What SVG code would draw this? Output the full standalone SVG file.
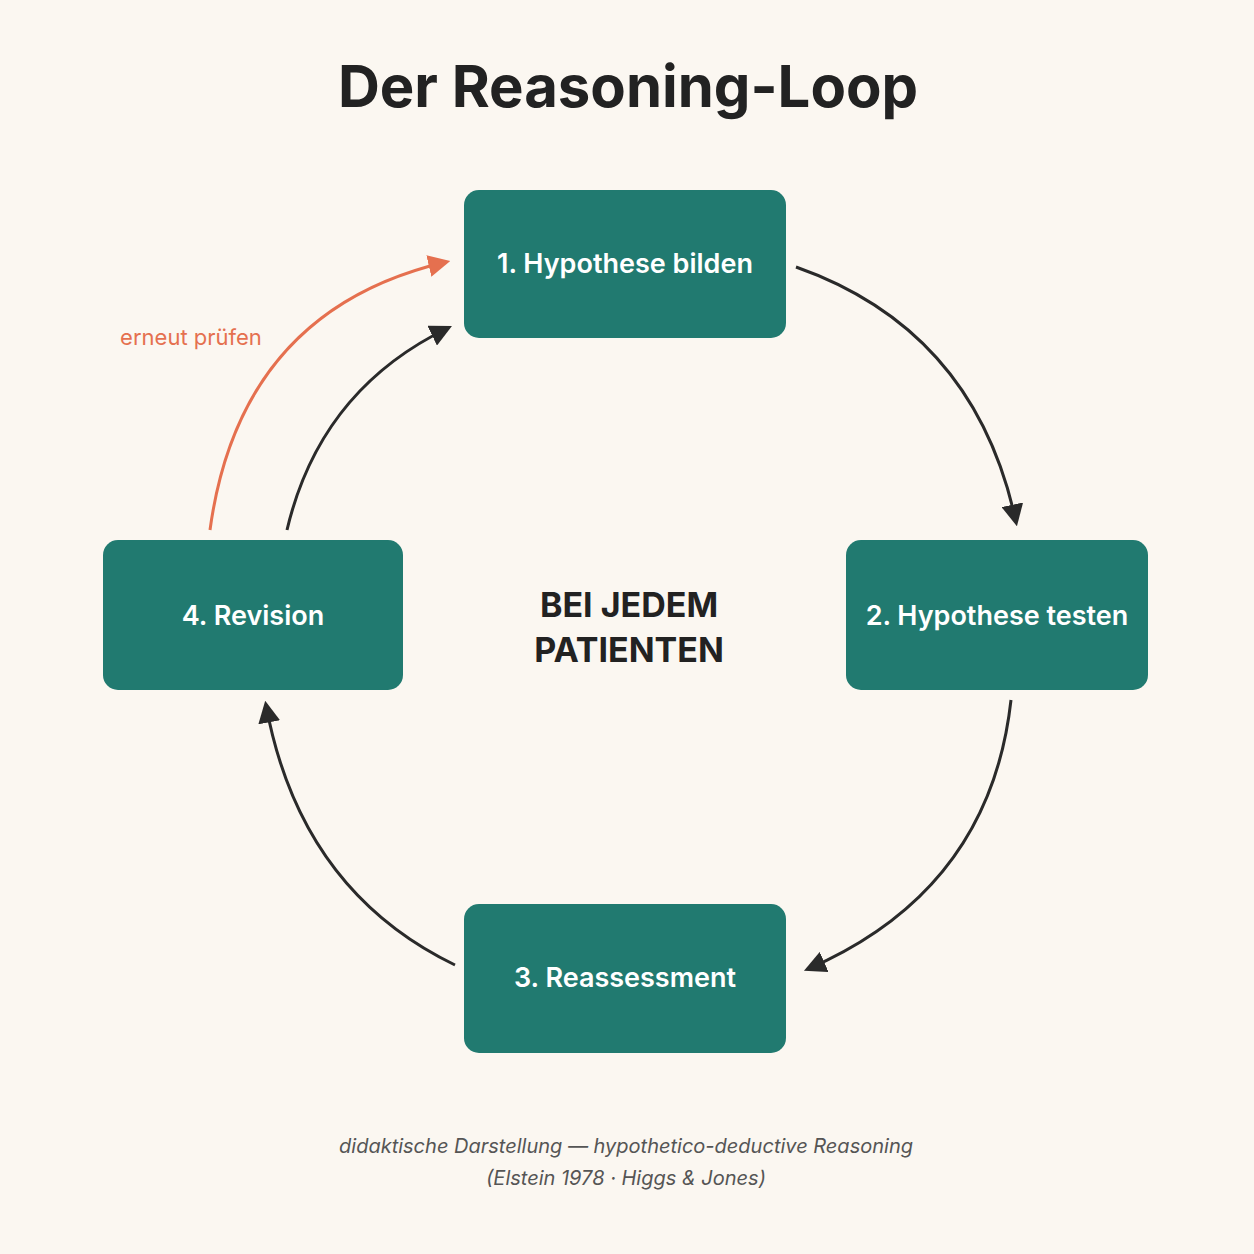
<svg xmlns="http://www.w3.org/2000/svg" width="1254" height="1254" viewBox="0 0 1254 1254">
<defs>
<style>
.box{fill:#217A70}
.lbl{font-family:"Inter","Liberation Sans",sans-serif;font-weight:600;font-size:27px;fill:#fff;text-anchor:middle}
.con{fill:none;stroke:#2a2a2a;stroke-width:3}
.foot{font-family:"Inter","Liberation Sans",sans-serif;font-style:italic;font-size:20px;fill:#555;text-anchor:middle}
</style>
<marker id="ah" viewBox="0 0 10 10" refX="8" refY="5" markerWidth="7" markerHeight="7" orient="auto" markerUnits="userSpaceOnUse" style="overflow:visible"><path d="M0,0 L10,5 L0,10 z" fill="#2a2a2a" transform="scale(2.2) translate(-4,-5) translate(4,5)"/></marker>
<marker id="ah2" viewBox="0 0 10 10" refX="8" refY="5" markerWidth="22" markerHeight="22" orient="auto" markerUnits="userSpaceOnUse"><path d="M0,0 L10,5 L0,10 z" fill="#E5704F"/></marker>
<marker id="ah1" viewBox="0 0 10 10" refX="8" refY="5" markerWidth="22" markerHeight="22" orient="auto" markerUnits="userSpaceOnUse"><path d="M0,0 L10,5 L0,10 z" fill="#2a2a2a"/></marker>
</defs>
<rect width="1254" height="1254" fill="#FBF7F1"/>
<text x="628" y="107" font-family="Inter,'Liberation Sans',sans-serif" font-weight="700" font-size="58" fill="#222" text-anchor="middle">Der Reasoning-Loop</text>
<g id="connectors">
<path class="con" d="M796,267 Q975,330 1016,522" marker-end="url(#ah1)"/>
<path class="con" d="M1011,700 Q990,890 808,969" marker-end="url(#ah1)"/>
<path class="con" d="M455,965 Q300,890 266,705" marker-end="url(#ah1)"/>
<path class="con" d="M287,530 Q320,390 448,328" marker-end="url(#ah1)"/>
<path d="M210,530 Q240,310 446,262" fill="none" stroke="#E5704F" stroke-width="3" marker-end="url(#ah2)"/>
<text x="191" y="345" font-family="Inter,'Liberation Sans',sans-serif" font-size="22" fill="#E5704F" text-anchor="middle">erneut prüfen</text>
</g>
<g id="n1"><rect class="box" x="464" y="190" width="322" height="148" rx="15"/><text class="lbl" x="625" y="273">1. Hypothese bilden</text></g>
<g id="n2"><rect class="box" x="846" y="540" width="302" height="150" rx="15"/><text class="lbl" x="997" y="625">2. Hypothese testen</text></g>
<g id="n3"><rect class="box" x="464" y="904" width="322" height="149" rx="15"/><text class="lbl" x="625" y="987">3. Reassessment</text></g>
<g id="n4"><rect class="box" x="103" y="540" width="300" height="150" rx="15"/><text class="lbl" x="253" y="625">4. Revision</text></g>
<g id="center" font-family="Inter,'Liberation Sans',sans-serif" font-weight="700" font-size="34" fill="#222" text-anchor="middle">
<text x="629" y="617">BEI JEDEM</text><text x="629" y="662">PATIENTEN</text></g>
<text class="foot" x="626" y="1153">didaktische Darstellung — hypothetico-deductive Reasoning</text>
<text class="foot" x="626" y="1185">(Elstein 1978 · Higgs &amp; Jones)</text>
</svg>
